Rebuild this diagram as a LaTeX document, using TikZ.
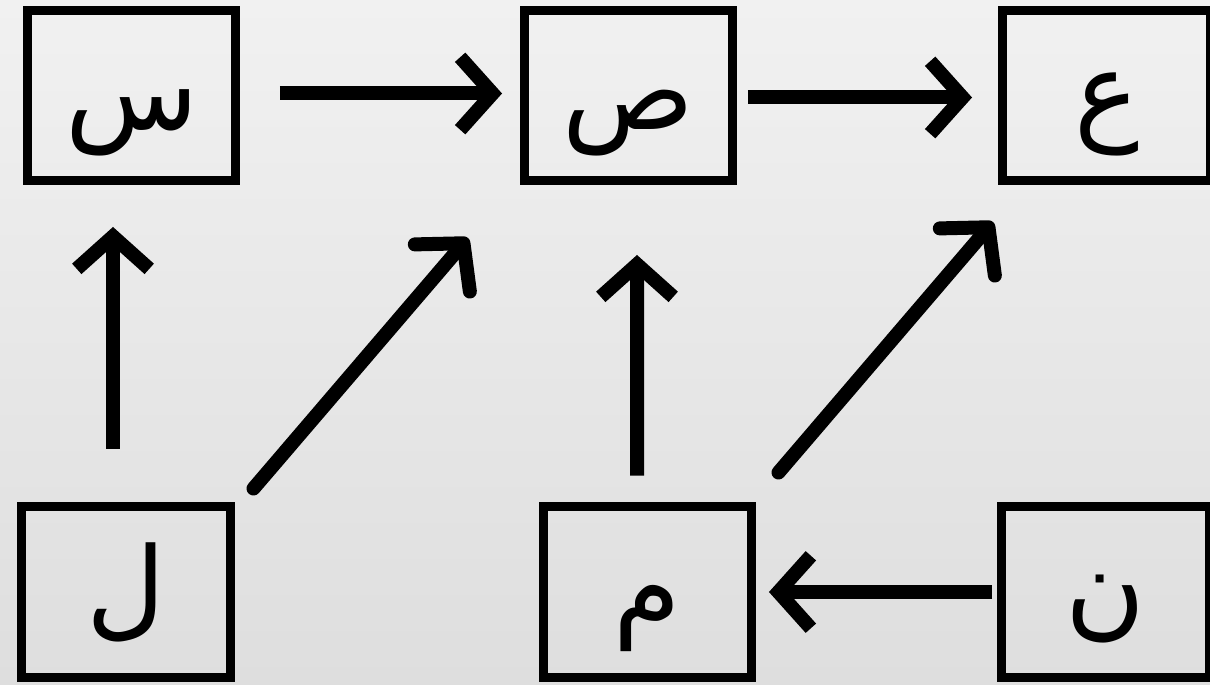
\documentclass[tikz,border=0pt]{standalone}
\usepackage{fontspec}
\usepackage{xcolor}
\usetikzlibrary{arrows.meta, positioning}
\newfontfamily\arabicfont[Script=Arabic]{DejaVu Sans}
\TeXXeTstate=1
\definecolor{bgtop}{RGB}{241,241,241}
\definecolor{bgbottom}{RGB}{222,222,222}

\begin{document}
\begin{tikzpicture}[x=0.02cm, y=-0.02cm,
    letter/.style={draw, line width=0.18cm, inner sep=0pt, outer sep=0pt,
      minimum width=4.18cm, minimum height=3.42cm,
      text height=1.6cm, text depth=0.24cm,
      font=\arabicfont\fontsize{62}{62}\selectfont},
    flow/.style={line width=0.28cm, -{Straight Barb[length=0.65cm, width=1.45cm]}},
    slant/.style={flow, line cap=round, -{Straight Barb[round, length=0.65cm, width=1.45cm]}}]
      \useasboundingbox (0,0) rectangle (1210,685);
      \shade [top color=bgtop, bottom color=bgbottom] (0,0) rectangle (1210,685);
      \clip (0,0) rectangle (1210,685);

      \node [letter] (SIN) at (131.5, 95.5) {\beginR س\endR};
      \node [letter] (SAD) at (628.5, 95.5) {\beginR ص\endR};
      \node [letter] (AIN) at (1106.5, 95.5) {\beginR ع\endR};
      \node [letter] (LAM) at (126, 592) {\beginR ل\endR};
      \node [letter] (MIM) at (647.5, 592) {\beginR م\endR};
      \node [letter] (NUN) at (1105.5, 592) {\beginR ن\endR};

      \draw [flow] ([shift={(44,-2)}]SIN.east) -- ([shift={(-22,-2)}]SAD.west);
      \draw [flow] ([shift={(15,2)}]SAD.east) -- ([shift={(-30,2)}]AIN.west);
      \draw [flow] ([shift={(-13,-58)}]LAM.north) -- ([shift={(-18.5,46)}]SIN.south);
      \draw [slant] ([shift={(23,-18)}]LAM.north east) -- ([shift={(-56,57)}]SAD.south west);
      \draw [flow] ([shift={(-10.5,-31)}]MIM.north) -- ([shift={(8.5,74)}]SAD.south);
      \draw [slant] ([shift={(26.5,-34)}]MIM.north east) -- ([shift={(-9,41)}]AIN.south west);
      \draw [flow] ([shift={(-9,0)}]NUN.west) -- ([shift={(17,0)}]MIM.east);
    \end{tikzpicture}
\end{document}
